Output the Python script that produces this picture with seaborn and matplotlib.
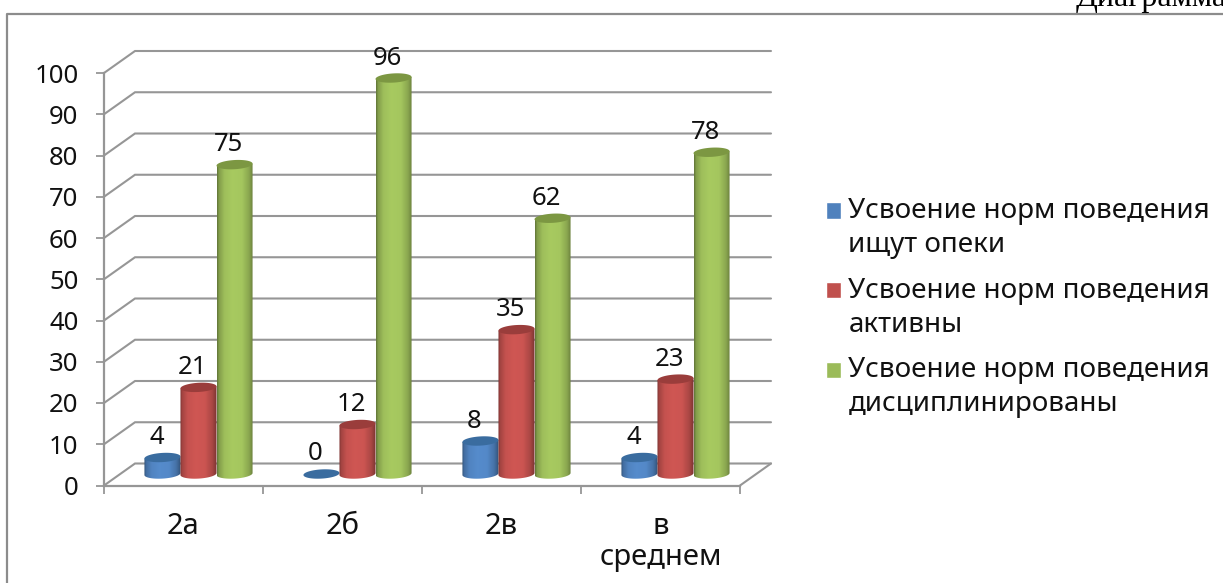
import numpy as np
import pandas as pd
import matplotlib
matplotlib.use("Agg")
import matplotlib.pyplot as plt
import seaborn as sns
from matplotlib.path import Path
from matplotlib.patches import Polygon, PathPatch
from matplotlib.lines import Line2D
from matplotlib.transforms import ScaledTranslation
from matplotlib.colors import to_rgb

categories = ["2а", "2б", "2в", "в\nсреднем"]
series_names = ["Усвоение норм поведения\nищут опеки",
                "Усвоение норм поведения\nактивны",
                "Усвоение норм поведения\nдисциплинированы"]
values_opeki = [4, 0, 8, 4]
values_aktivny = [21, 12, 35, 23]
values_discipl = [75, 96, 62, 78]
y_ticks = list(range(0, 101, 10))

colors = ["#4F81BD", "#C0504D", "#9BBB59"]
top_colors = ["#3A6C9F", "#9A3D3B", "#7C9742"]
GRID = "#969696"
FONT = "Noto Sans"
FS_NUM = 18.5
FS_CAT = 21
FS_LEG = 20

W, H = 1223, 583
sns.set_style("white")
plt.rcParams["font.family"] = [FONT, "DejaVu Sans"]

fig = plt.figure(figsize=(W / 100, H / 100), dpi=100)
L, R, B, T = 104, 740, 485.5, 73
ax = fig.add_axes([L / W, 1 - B / H, (R - L) / W, (B - T) / H])

df = pd.DataFrame({
    "cat": categories * 3,
    "val": values_opeki + values_aktivny + values_discipl,
    "ser": sum([[s] * 4 for s in series_names], []),
})
sns.barplot(data=df, x="cat", y="val", hue="ser", palette=colors, width=0.68,
            gap=0, saturation=1, ax=ax, zorder=5, legend=True, errorbar=None)
ax.set_xlim(-0.5, 3.5)
ax.set_ylim(0, 100)
ax.set_xlabel("")
ax.set_ylabel("")

px_x = (R - L) / 4
px_y = (B - T) / 100
dx, dy = 31 / px_x, 22 / px_y          # depth of the floor, in data units
bt = ax.transData + ScaledTranslation(15 / 100, 11.5 / 100, fig.dpi_scale_trans)

# walls
xl, xr = -0.5, 3.5
for v in y_ticks:
    ax.plot([xl, xl + dx, xr + dx], [v, v + dy, v + dy], color=GRID, lw=1.5,
            clip_on=False, zorder=1, solid_joinstyle="miter")
ax.plot([xr, xr + dx], [0, dy], color=GRID, lw=1.5, clip_on=False, zorder=1)

# cylinders
t = np.linspace(0, 2 * np.pi, 80)
n_bars = len(categories) * len(series_names)
stops = np.array([0, .05, .2, .42, .68, .88, 1.0])
shade = np.array([.64, .84, 1.02, 1.08, 1.06, .88, .64])
xs = np.linspace(0, 1, 64)
profile = np.interp(xs, stops, shade)[None, :, None]

for i, bar in enumerate(ax.patches[:n_bars]):
    s = i // len(categories)
    x0, w, h = bar.get_x(), bar.get_width(), bar.get_height()
    cx = x0 + w / 2
    a, b, sh = w / 2, 4.6 / px_y, 1.0 / px_y
    bar.set_transform(bt)
    bar.set_visible(False)
    if h > 0:
        ang = np.linspace(np.pi, 2 * np.pi, 40)
        xb = cx + a * np.cos(ang)
        yb = b * np.sin(ang) + sh * np.cos(ang)
        verts = np.r_[np.c_[xb, yb], [[x0 + w, h + sh], [x0, h - sh]], [[xb[0], yb[0]]]]
        clip = PathPatch(Path(verts), transform=bt, fc="none", ec="none")
        ax.add_patch(clip)
        rgb = np.clip(np.array(to_rgb(colors[s]))[None, None, :] * profile, 0, 1)
        im = ax.imshow(rgb, extent=[x0, x0 + w, -b - sh, h + b + sh], aspect="auto",
                       origin="lower", zorder=5 + i * 0.01 + s, interpolation="bilinear")
        im.set_transform(bt)
        im.set_clip_path(clip)
    ax.add_patch(Polygon(np.c_[cx + a * np.cos(t), h + b * np.sin(t) + sh * np.cos(t)],
                         closed=True, transform=bt, fc=top_colors[s], ec="none",
                         zorder=5.05 + i * 0.01 + s))
    ax.annotate(f"{int(h)}", xy=(cx + 15 / px_x, h + 11.5 / px_y), xytext=(-6, 20),
                textcoords="offset pixels", ha="center", va="center",
                fontsize=FS_NUM, color="#111111", zorder=20, annotation_clip=False)
ax.set_xlim(-0.5, 3.5)
ax.set_ylim(0, 100)

# axes
sns.despine(ax=ax)
for sp in ("left", "bottom"):
    ax.spines[sp].set_color(GRID)
    ax.spines[sp].set_linewidth(1.6)
    ax.spines[sp].set_zorder(2)
ax.set_yticks(y_ticks)
ax.set_xticks(range(4))
ax.set_xticklabels(categories, linespacing=1.08)
ax.set_xticks(np.arange(-0.5, 4), minor=True)
ax.tick_params(axis="y", length=5.8, width=1.3, color=GRID, labelsize=FS_NUM, labelcolor="#111111",
               pad=12.5, left=True)
ax.tick_params(axis="x", which="major", length=0, labelsize=FS_CAT, labelcolor="#111111", pad=19)
ax.tick_params(axis="x", which="minor", length=5.8, width=1.3, color=GRID, bottom=True)

# legend
handles, labels = ax.get_legend_handles_labels()
if ax.get_legend():
    ax.get_legend().remove()
leg = fig.legend(handles, labels, loc="upper left", bbox_to_anchor=(826 / W, 1 - 197 / H),
                 bbox_transform=fig.transFigure, frameon=False, fontsize=FS_LEG,
                 handlelength=0.54, handleheight=0.54, handletextpad=0.27,
                 labelspacing=0.64, borderpad=0, borderaxespad=0)
for txt in leg.get_texts():
    txt.set_linespacing(1.28)
    txt.set_color("#111111")
for patch in leg.legend_handles:
    patch.set_y(patch.get_y() + 13)

# frame around the chart, and the caption cut off above it
fig.add_artist(Line2D([6.5 / W, 6.5 / W, 1], [0, 1 - 13.5 / H, 1 - 13.5 / H],
                      color="#8C8C8C", lw=1.6))
fig.text(1076 / W, 1 - 6 / H, "Диаграмма", family="Liberation Serif", fontsize=23,
         ha="left", va="baseline", color="black")

fig.savefig("out.png", dpi=100)
